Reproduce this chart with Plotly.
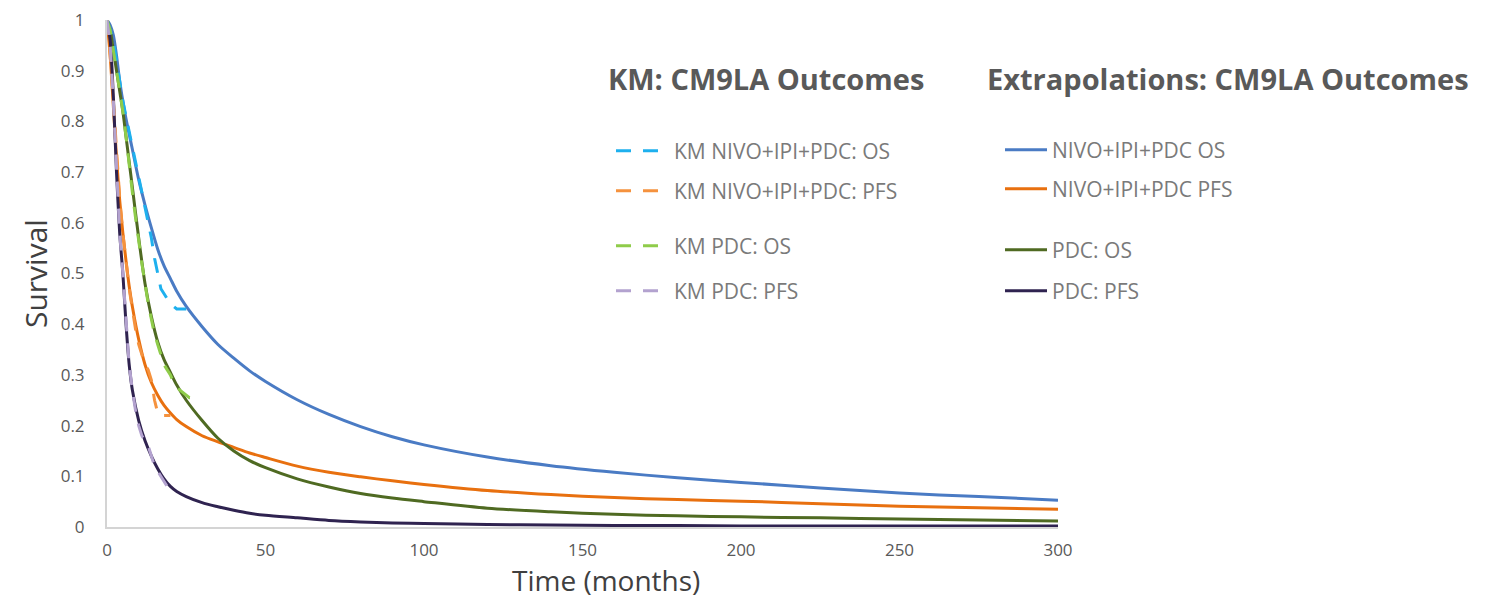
import plotly.graph_objects as go

# ---------------- data ----------------
ext_t = [0, 1, 2, 3, 4, 5, 6, 7, 8, 10, 12, 14, 16, 18, 20, 22, 25, 30, 35, 40, 45, 50, 60, 70, 80, 90,
         100, 120, 140, 160, 180, 200, 225, 250, 275, 300]
ext_nivo_os = [1.0, 0.99, 0.97, 0.93, 0.88, 0.84, 0.805, 0.775, 0.745, 0.685, 0.635, 0.59, 0.548, 0.515, 0.49, 0.465,
               0.435, 0.395, 0.36, 0.333, 0.308, 0.287, 0.251, 0.222, 0.198, 0.178, 0.162, 0.138, 0.121, 0.108, 0.097,
               0.088, 0.077, 0.067, 0.06, 0.053]
ext_nivo_pfs = [1.0, 0.93, 0.83, 0.73, 0.645, 0.58, 0.525, 0.475, 0.435, 0.37, 0.32, 0.285, 0.26, 0.24, 0.225, 0.212,
                0.198, 0.18, 0.168, 0.157, 0.146, 0.137, 0.12, 0.108, 0.099, 0.091, 0.084, 0.072, 0.064, 0.058, 0.054,
                0.051, 0.046, 0.041, 0.038, 0.035]
ext_pdc_os = [1.0, 0.98, 0.94, 0.90, 0.86, 0.82, 0.77, 0.72, 0.67, 0.57, 0.48, 0.415, 0.365, 0.33, 0.305, 0.28, 0.25,
              0.21, 0.175, 0.15, 0.131, 0.117, 0.095, 0.079, 0.066, 0.057, 0.05, 0.037, 0.03, 0.025, 0.022, 0.02,
              0.018, 0.016, 0.014, 0.012]
ext_pdc_pfs = [1.0, 0.96, 0.85, 0.70, 0.58, 0.50, 0.40, 0.32, 0.27, 0.21, 0.17, 0.14, 0.115, 0.095, 0.08, 0.07, 0.06,
               0.048, 0.04, 0.033, 0.027, 0.023, 0.018, 0.013, 0.01, 0.008, 0.007, 0.005, 0.004, 0.003, 0.003, 0.002,
               0.002, 0.002, 0.002, 0.002]

km_nivo_os_t = [0, 1, 2, 3, 4, 5, 6, 7, 8, 9, 10, 11, 12, 13, 14, 15, 16, 17, 18, 19, 20, 21, 22, 23, 25]
km_nivo_os = [1.0, 0.98, 0.96, 0.92, 0.88, 0.84, 0.81, 0.78, 0.75, 0.72, 0.69, 0.66, 0.63, 0.60, 0.57, 0.53, 0.50,
              0.47, 0.46, 0.45, 0.44, 0.435, 0.43, 0.43, 0.43]
km_nivo_pfs_t = [0, 1, 2, 3, 4, 5, 6, 7, 8, 9, 10, 11, 12, 13, 14, 15, 16, 17, 18, 20]
km_nivo_pfs = [1.0, 0.93, 0.84, 0.74, 0.65, 0.58, 0.52, 0.47, 0.43, 0.39, 0.36, 0.34, 0.32, 0.31, 0.29, 0.25, 0.225,
               0.22, 0.22, 0.22]
km_pdc_os_t = [0, 1, 2, 3, 4, 5, 6, 7, 8, 9, 10, 11, 12, 13, 14, 15, 16, 17, 18, 19, 20, 21, 22, 23, 24, 25, 26, 27]
km_pdc_os = [1.0, 0.98, 0.94, 0.90, 0.86, 0.82, 0.77, 0.71, 0.66, 0.61, 0.56, 0.52, 0.48, 0.44, 0.41, 0.38, 0.36,
             0.34, 0.32, 0.31, 0.30, 0.285, 0.275, 0.27, 0.265, 0.26, 0.255, 0.255]
km_pdc_pfs_t = [0, 1, 2, 3, 4, 5, 6, 7, 8, 9, 10, 11, 12, 13, 14, 15, 16, 17, 18, 19, 20, 21, 22]
km_pdc_pfs = [1.0, 0.95, 0.84, 0.70, 0.58, 0.50, 0.40, 0.32, 0.27, 0.23, 0.20, 0.18, 0.17, 0.16, 0.14, 0.12, 0.11,
              0.10, 0.09, 0.08, 0.078, 0.077, 0.077]

x_ticks = [0, 50, 100, 150, 200, 250, 300]
y_ticks = [0, 0.1, 0.2, 0.3, 0.4, 0.5, 0.6, 0.7, 0.8, 0.9, 1]
y_tick_labels = ["0", "0.1", "0.2", "0.3", "0.4", "0.5", "0.6", "0.7", "0.8", "0.9", "1"]

# ---------------- figure ----------------
fig = go.Figure()

OFF = 8  # page body margin
W, H = 1491 - 2 * OFF, 607 - 2 * OFF
PL, PR, PT, PB = 107, 1058, 20, 527  # plot area in page pixels
L, R, T, B = PL - OFF, W - (PR - OFF), PT - OFF, H - (PB - OFF)
pw, ph = W - L - R, H - T - B


def px2paper(x, y):
    return (x - OFF - L) / pw, (H - B - (y - OFF)) / ph


ext = [
    ("NIVO+IPI+PDC OS", ext_nivo_os, "#4a7bc4", "legend5"),
    ("NIVO+IPI+PDC PFS", ext_nivo_pfs, "#e8700f", "legend6"),
    ("PDC: OS", ext_pdc_os, "#4f6a22", "legend7"),
    ("PDC: PFS", ext_pdc_pfs, "#2f2350", "legend8"),
]
km = [
    ("KM NIVO+IPI+PDC: OS", km_nivo_os_t, km_nivo_os, "#1eb0ee", "legend"),
    ("KM NIVO+IPI+PDC: PFS", km_nivo_pfs_t, km_nivo_pfs, "#f5923e", "legend2"),
    ("KM PDC: OS", km_pdc_os_t, km_pdc_os, "#8fcc4a", "legend3"),
    ("KM PDC: PFS", km_pdc_pfs_t, km_pdc_pfs, "#b3a2cf", "legend4"),
]

for name, y, col, lg in ext:
    fig.add_trace(go.Scatter(x=ext_t, y=y, name=name, mode="lines", legend=lg,
                             line=dict(color=col, width=3, shape="spline", smoothing=0.8)))
for name, t, y, col, lg in km:
    fig.add_trace(go.Scatter(x=t, y=y, name=name, mode="lines", legend=lg,
                             line=dict(color=col, width=3, dash="15px,12px")))

legend_font = dict(family="Open Sans, sans-serif", size=21, color="#7a7a7a")
km_pos = [151, 191, 246, 291]
ext_pos = [150, 189, 250, 291]
legend_layout = {}
for i, py in enumerate(km_pos):
    key = "legend" if i == 0 else f"legend{i + 1}"
    lx, ly = px2paper(611, py)
    legend_layout[key] = dict(x=lx, y=ly, xanchor="left", yanchor="middle", bgcolor="rgba(0,0,0,0)",
                              font=legend_font, itemwidth=53)
for i, py in enumerate(ext_pos):
    key = f"legend{i + 5}"
    lx, ly = px2paper(1000, py)
    legend_layout[key] = dict(x=lx, y=ly, xanchor="left", yanchor="middle", bgcolor="rgba(0,0,0,0)",
                              font=legend_font, itemwidth=42)

title_font = dict(family="Open Sans, sans-serif", size=29, color="#595959")
annotations = []
tx, ty = px2paper(606, 78)
annotations.append(dict(text="<b>KM: CM9LA Outcomes</b>", x=tx, y=ty, xref="paper", yref="paper",
                        xanchor="left", yanchor="middle", showarrow=False, font=title_font))
tx, ty = px2paper(985, 78)
annotations.append(dict(text="<b>Extrapolations: CM9LA Outcomes</b>", x=tx, y=ty, xref="paper", yref="paper",
                        xanchor="left", yanchor="middle", showarrow=False, font=title_font))
tx, ty = px2paper(606, 580)
annotations.append(dict(text="Time (months)", x=tx, y=ty, xref="paper", yref="paper",
                        xanchor="center", yanchor="middle", showarrow=False,
                        font=dict(family="Open Sans, sans-serif", size=28, color="#404040")))
tx, ty = px2paper(35, 274)
annotations.append(dict(text="Survival", x=tx, y=ty, xref="paper", yref="paper", textangle=-90,
                        xanchor="center", yanchor="middle", showarrow=False,
                        font=dict(family="Open Sans, sans-serif", size=30, color="#404040")))

tick_font = dict(family="Open Sans, sans-serif", size=17, color="#595959")
fig.update_layout(
    width=W, height=H,
    margin=dict(l=L, r=R, t=T, b=B, autoexpand=False),
    paper_bgcolor="white", plot_bgcolor="white",
    showlegend=True,
    annotations=annotations,
    xaxis=dict(range=[0, 300], tickvals=x_ticks, showgrid=False, zeroline=False, showline=True,
               linecolor="#d4d4d4", linewidth=2, ticks="", ticklabelstandoff=7, tickfont=tick_font),
    yaxis=dict(range=[0, 1], tickvals=y_ticks, ticktext=y_tick_labels, showgrid=False, zeroline=False,
               showline=True, linecolor="#d4d4d4", linewidth=2, ticks="", ticklabelstandoff=17,
               ticklabeloverflow="allow", tickfont=tick_font),
    **legend_layout,
)

fig.write_html("out.html")
